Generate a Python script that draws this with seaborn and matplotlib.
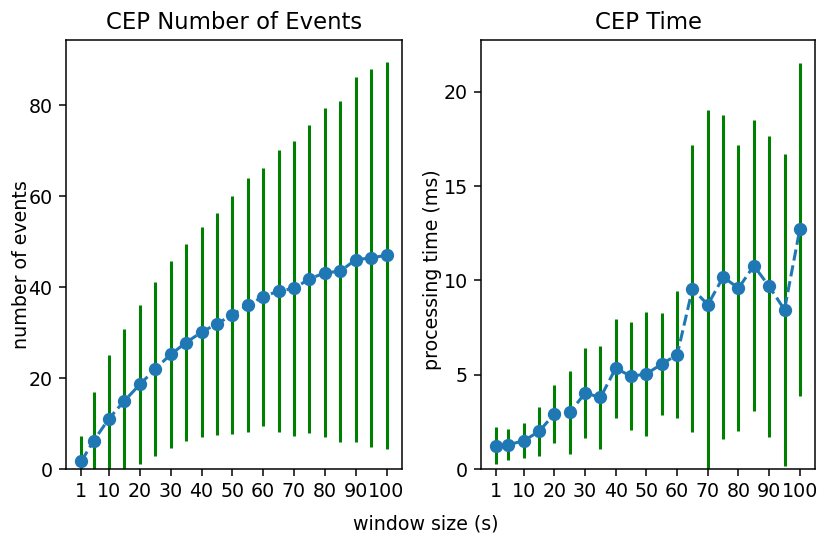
import matplotlib
matplotlib.use("Agg")
import matplotlib.pyplot as plt
import seaborn as sns
import pandas as pd

window_sizes = [1, 5, 10, 15, 20, 25, 30, 35, 40, 45, 50, 55, 60, 65, 70, 75, 80, 85, 90, 95, 100]
tick_values = [1, 10, 20, 30, 40, 50, 60, 70, 80, 90, 100]

events_mean = [1.7, 6.2, 11.1, 15.0, 18.6, 22.0, 25.2, 27.8, 30.1, 31.9, 33.9, 36.0,
               37.9, 39.1, 39.7, 41.8, 43.1, 43.5, 46.0, 46.4, 47.0]
events_std = [5.5, 10.7, 13.9, 15.8, 17.45, 19.05, 20.55, 21.7, 23.15, 24.4, 26.15, 27.95,
              28.35, 30.95, 32.4, 33.9, 36.15, 37.45, 40.1, 41.45, 42.5]

time_mean = [1.24, 1.29, 1.50, 2.00, 2.93, 3.00, 4.03, 3.80, 5.35, 4.91, 5.05, 5.57,
             6.06, 9.56, 8.71, 10.18, 9.59, 10.78, 9.68, 8.45, 12.72]
time_std = [0.97, 0.82, 0.92, 1.30, 1.55, 2.19, 2.38, 2.75, 2.62, 2.86, 3.30, 2.70,
            3.37, 7.62, 10.35, 8.61, 7.58, 7.72, 8.00, 8.27, 8.83]

df = pd.DataFrame({
    "window": window_sizes,
    "events": events_mean,
    "events_std": events_std,
    "time": time_mean,
    "time_std": time_std,
})

plt.rcParams["font.family"] = ["DejaVu Sans"]
fig = plt.figure(figsize=(6.0, 3.9), dpi=136.67)
ax1 = fig.add_axes([0.0805, 0.120, 0.4095, 0.805])
ax2 = fig.add_axes([0.5866, 0.120, 0.4073, 0.805])

for ax, col, scol, title, ylabel, ytop, lx, ly in [
    (ax1, "events", "events_std", "CEP Number of Events", "number of events", 94.3, -0.104, 0.476),
    (ax2, "time", "time_std", "CEP Time", "processing time (ms)", 22.75, -0.116, 0.464),
]:
    ax.errorbar(df["window"], df[col], yerr=df[scol], fmt="none",
                ecolor="green", elinewidth=1.6, zorder=1)
    sns.lineplot(data=df, x="window", y=col, ax=ax, color="#1f77b4",
                 linestyle="--", linewidth=1.6, marker="o", markersize=7,
                 markeredgecolor="#1f77b4", markeredgewidth=0, zorder=3)
    ax.set_xticks(tick_values)
    ax.set_xticklabels([str(t) for t in tick_values])
    ax.set_xlim(-3.95, 104.95)
    ax.set_ylim(0, ytop)
    ax.set_title(title, fontsize=12)
    ax.set_xlabel("")
    ax.set_ylabel(ylabel, fontsize=10)
    ax.yaxis.set_label_coords(lx, ly)
    ax.tick_params(labelsize=10)

ax1.set_yticks([0, 20, 40, 60, 80])
ax2.set_yticks([0, 5, 10, 15, 20])

fig.text(0.519, 0.0178, "window size (s)", ha="center", va="center", fontsize=10)

fig.savefig("out.png", dpi=136.67)
